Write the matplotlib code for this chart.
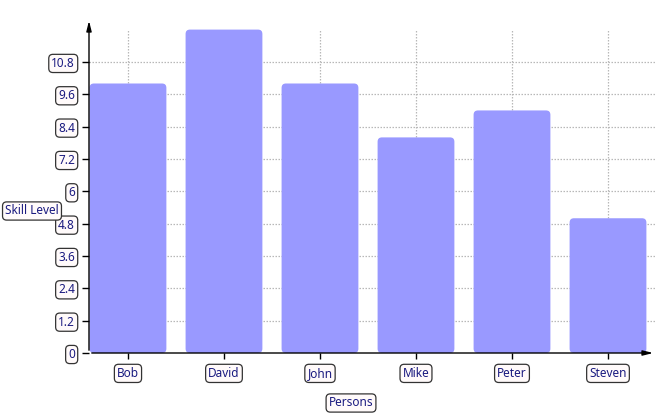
import matplotlib.pyplot as plt
from matplotlib.patches import FancyBboxPatch
import numpy as np

persons = ['Bob', 'David', 'John', 'Mike', 'Peter', 'Steven']
skill = [10, 12, 10, 8, 9, 5]
y_ticks = [0, 1.2, 2.4, 3.6, 4.8, 6, 7.2, 8.4, 9.6, 10.8]
y_labels = ['0', '1.2', '2.4', '3.6', '4.8', '6', '7.2', '8.4', '9.6', '10.8']

plt.rcParams['font.family'] = ['Noto Sans', 'DejaVu Sans']

W, H = 661, 417
fig = plt.figure(figsize=(W / 100, H / 100), dpi=100)
ax = fig.add_axes([89 / W, (H - 353) / H, (656 - 89) / W, (353 - 18) / H])

x = np.arange(len(persons))
ax.set_xlim(-0.406, 5.5)
ax.set_ylim(0, 12.43)

# grid
for yt in y_ticks[1:]:
    ax.axhline(yt, color='#b8b8b8', lw=0.9, ls=(0, (1.2, 1.2)), zorder=0)
ax.vlines(x, 0, 12.0, color='#b8b8b8', lw=0.9, ls=(0, (1.2, 1.2)), zorder=0)

# bars with rounded corners
bars = ax.bar(x, skill, width=0.8, color='#9999ff')
for b in bars:
    b.set_visible(False)
    r = FancyBboxPatch((b.get_x(), b.get_y()), b.get_width(), b.get_height(),
                       boxstyle='round,pad=0,rounding_size=0.045',
                       mutation_aspect=96 / 26.94, fc='#9999ff', ec='none', zorder=2)
    ax.add_patch(r)

for s in ax.spines.values():
    s.set_visible(False)

# axes with arrows
ax.annotate('', xy=(0, 1), xytext=(0, 0), xycoords='axes fraction',
            arrowprops=dict(arrowstyle='-|>,head_length=0.6,head_width=0.15', color='black', lw=1), zorder=5)
ax.annotate('', xy=(1, 0), xytext=(0, 0), xycoords='axes fraction',
            arrowprops=dict(arrowstyle='-|>,head_length=0.6,head_width=0.15', color='black', lw=1), zorder=5)

box = dict(boxstyle='round,pad=0.22,rounding_size=0.35', fc='#fffafa', ec='#333333', lw=0.9)

ax.set_yticks(y_ticks)
ax.set_yticklabels(y_labels)
ax.set_xticks(x)
ax.set_xticklabels(persons)
ax.tick_params(axis='y', length=5, width=1, pad=5, labelsize=8.5, labelcolor='#1a1a80')
ax.tick_params(axis='x', length=4, width=1, pad=6, labelsize=8.5, labelcolor='#1a1a80')
for lbl in ax.get_yticklabels() + ax.get_xticklabels():
    lbl.set_bbox(box)

fig.text(32 / W, 1 - 211 / H, 'Skill Level', ha='center', va='center', fontsize=8.5,
         color='#1a1a80', bbox=box)
fig.text(351 / W, 1 - 403 / H, 'Persons', ha='center', va='center', fontsize=8.5,
         color='#1a1a80', bbox=box)

fig.savefig('out.png', dpi=100)
